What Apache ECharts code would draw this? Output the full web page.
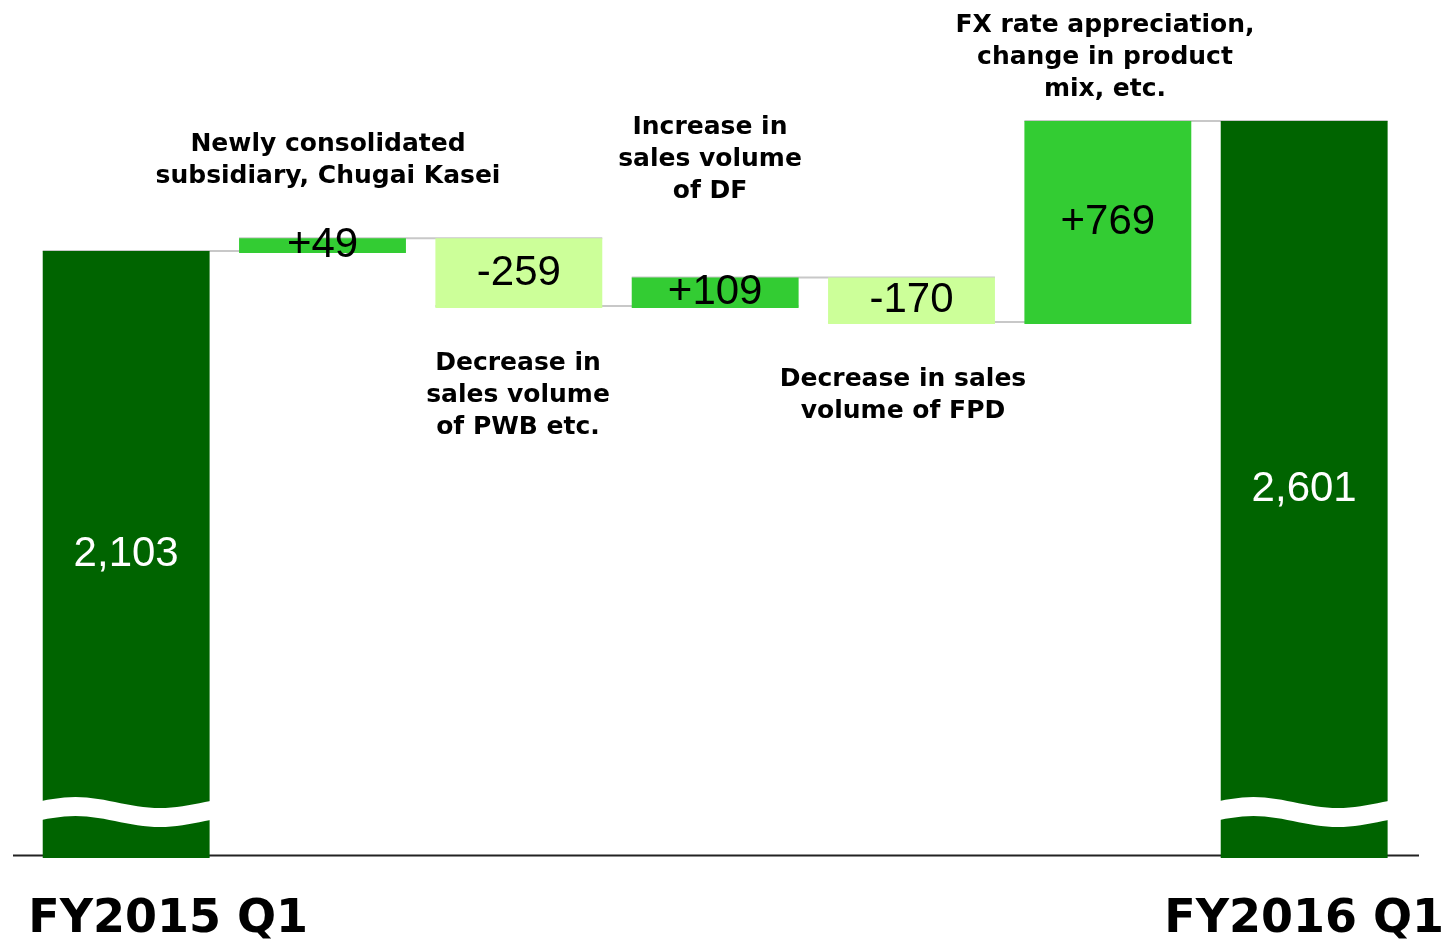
<!DOCTYPE html>
<html>
<head>
<meta charset="utf-8">
<script src="https://cdn.jsdelivr.net/npm/echarts@6/dist/echarts.min.js"></script>
<style>
html, body { margin: 0; padding: 0; background: #fff; }
#main { width: 1447px; height: 943px; }
</style>
</head>
<body>
<div id="main"></div>
<script>
// data
var categories = ['FY2015 Q1', 'Chugai Kasei', 'PWB', 'DF', 'FPD', 'FX', 'FY2016 Q1'];
var changes = [2103, 49, -259, 109, -170, 769, 2601];
var kinds = ['total', 'up', 'down', 'up', 'down', 'up', 'total'];
var valueLabels = ['2,103', '+49', '-259', '+109', '-170', '+769', '2,601'];
var notes = [
    'Newly consolidated\nsubsidiary, Chugai Kasei',
    'Decrease in\nsales volume\nof PWB etc.',
    'Increase in\nsales volume\nof DF',
    'Decrease in sales\nvolume of FPD',
    'FX rate appreciation,\nchange in product\nmix, etc.'
];

// axis is broken, bottom of total bars sits below zero
var yMin = -210;
var yMax = 2700;

var colors = { total: '#006400', up: '#33CC33', down: '#CCFF99' };

// 柱子的上下端
var barData = [];
var links = [];
var level = 0;
changes.forEach(function (v, i) {
    var lo, hi;
    if (kinds[i] == 'total') {
        lo = yMin; hi = v; level = v;
    } else if (v > 0) {
        lo = level; hi = level + v; level = hi;
    } else {
        hi = level; lo = level + v; level = lo;
    }
    barData.push([i, lo, hi]);
    if (i < changes.length - 1) links.push([i, level]);
});

var totalIdx = [];
kinds.forEach(function (k, i) { if (k == 'total') totalIdx.push([i]); });

var BAR = 0.85;

function renderBar(params, api) {
    var i = api.value(0);
    var lo = api.coord([i, api.value(1)]);
    var hi = api.coord([i, api.value(2)]);
    var w = api.size([1, 0])[0] * BAR;
    var k = kinds[params.dataIndex];
    return {
        type: 'rect',
        shape: { x: lo[0] - w / 2, y: hi[1], width: w, height: lo[1] - hi[1] + 2 },
        style: { fill: colors[k] },
        textContent: {
            style: {
                text: valueLabels[params.dataIndex],
                fontSize: 42,
                fontFamily: 'Liberation Sans, Arial',
                fill: k == 'total' ? '#fff' : '#000'
            }
        },
        textConfig: { position: 'inside' },
        z2: 10
    };
}

function renderLink(params, api) {
    var i = api.value(0);
    var w = api.size([1, 0])[0] * BAR;
    var a = api.coord([i, api.value(1)]);
    var b = api.coord([i + 1, api.value(1)]);
    return {
        type: 'line',
        shape: { x1: a[0] - w / 2, y1: a[1], x2: b[0] + w / 2, y2: b[1] },
        style: { stroke: '#C8C8C8', lineWidth: 2 },
        z2: 1
    };
}

// 断开的白色波浪
function renderWave(params, api) {
    var i = api.value(0);
    var c = api.coord([i, 0]);
    var w = api.size([1, 0])[0] * BAR;
    var left = c[0] - w / 2;
    var mid = c[1] + 1.5;
    var top = [], bottom = [];
    for (var s = 0; s <= 30; s++) {
        var t = s / 30;
        var y = mid - 5.5 * Math.sin(2 * Math.PI * t + 0.1 * Math.PI);
        top.push([left - 1 + t * (w + 2), y]);
        bottom.unshift([left - 1 + t * (w + 2), y + 19]);
    }
    return {
        type: 'polygon',
        shape: { points: top.concat(bottom) },
        style: { fill: '#fff' },
        z2: 20
    };
}

var notePos = [[328, 128], [518, 347], [710, 111], [903, 363], [1105, 9]];
var graphics = notes.map(function (n, i) {
    return {
        type: 'text',
        x: notePos[i][0],
        y: notePos[i][1],
        style: {
            text: n,
            fontSize: 25,
            fontWeight: 'bold',
            fontFamily: 'DejaVu Sans',
            lineHeight: 32,
            align: 'center',
            verticalAlign: 'top',
            fill: '#000'
        }
    };
});
graphics.push({
    type: 'line',
    shape: { x1: 13, y1: 855.5, x2: 1419, y2: 855.5 },
    style: { stroke: '#222', lineWidth: 2 },
    z: -1
});

var option = {
    animation: false,
    backgroundColor: '#fff',
    grid: { left: 28, right: 43, top: 95, bottom: 87 },
    xAxis: {
        type: 'category',
        data: categories,
        axisLine: { show: false },
        axisTick: { show: false },
        axisLabel: {
            interval: 0,
            margin: 41,
            formatter: function (v, i) {
                if (i == 0) return '{a|' + v + '}';
                if (i == categories.length - 1) return '{b|' + v + '}';
                return '';
            },
            rich: {
                a: { fontSize: 46, fontWeight: 'bold', fontFamily: 'DejaVu Sans', color: '#000', padding: [0, 0, 0, 84] },
                b: { fontSize: 46, fontWeight: 'bold', fontFamily: 'DejaVu Sans', color: '#000' }
            }
        }
    },
    yAxis: {
        type: 'value',
        min: yMin,
        max: yMax,
        show: false,
        splitLine: { show: false }
    },
    series: [
        { type: 'custom', renderItem: renderLink, data: links, z: 1, silent: true },
        { type: 'custom', renderItem: renderBar, data: barData, z: 2, silent: true },
        { type: 'custom', renderItem: renderWave, data: totalIdx, z: 3, silent: true }
    ],
    graphic: graphics
};

var myChart = echarts.init(document.getElementById('main'));
myChart.setOption(option);
</script>
</body>
</html>
